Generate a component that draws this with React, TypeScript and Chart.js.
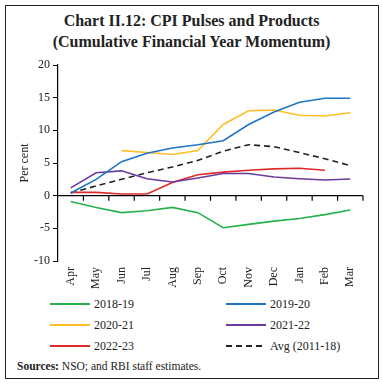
import React, { useEffect, useRef } from "react";
import { Chart, registerables } from "chart.js";

Chart.register(...registerables);

const months = ["Apr", "May", "Jun", "Jul", "Aug", "Sep", "Oct", "Nov", "Dec", "Jan", "Feb", "Mar"];
const s2018_19 = [-0.9, -1.8, -2.6, -2.3, -1.8, -2.6, -4.9, -4.4, -3.9, -3.5, -2.9, -2.2];
const s2019_20 = [0.4, 2.5, 5.2, 6.5, 7.3, 7.8, 8.4, 10.9, 12.8, 14.3, 14.9, 14.9];
const s2020_21 = [null, null, 6.9, 6.6, 6.3, 6.9, 10.9, 13.0, 13.1, 12.3, 12.2, 12.7];
const s2021_22 = [1.2, 3.5, 3.8, 2.6, 2.1, 2.7, 3.4, 3.4, 2.85, 2.6, 2.4, 2.55];
const s2022_23 = [0.5, 0.5, 0.25, 0.25, 2.0, 3.2, 3.6, 3.9, 4.1, 4.2, 3.9, null];
const sAvg = [0.4, 1.5, 2.5, 3.5, 4.4, 5.4, 6.8, 7.8, 7.5, 6.6, 5.65, 4.6];
const yTicks = [-10, -5, 0, 5, 10, 15, 20];

const series = [
  { label: "2018-19", data: s2018_19, color: "#27b14c", dash: [] as number[] },
  { label: "2019-20", data: s2019_20, color: "#1f74c4", dash: [] as number[] },
  { label: "2020-21", data: s2020_21, color: "#ffbf26", dash: [] as number[] },
  { label: "2021-22", data: s2021_22, color: "#6a3a9c", dash: [] as number[] },
  { label: "2022-23", data: s2022_23, color: "#e02a2a", dash: [] as number[] },
  { label: "Avg (2011-18)", data: sAvg, color: "#222222", dash: [6, 4] },
];

const SERIF = "'Liberation Serif', 'DejaVu Serif', serif";

const zeroTicks = {
  id: "zeroTicks",
  afterDatasetsDraw(chart: any) {
    const x = chart.scales.x;
    const y = chart.scales.y;
    const ctx = chart.ctx;
    const y0 = y.getPixelForValue(0);
    const n = x.ticks.length;
    ctx.save();
    ctx.strokeStyle = "#000";
    ctx.lineWidth = 1.2;
    ctx.beginPath();
    ctx.moveTo(x.left, y0);
    ctx.lineTo(x.right, y0);
    for (let i = 1; i <= n; i++) {
      const px = x.left + (i * x.width) / n;
      ctx.moveTo(px, y0);
      ctx.lineTo(px, y0 + 5);
    }
    ctx.stroke();
    ctx.restore();
  },
};

export default function App() {
  const ref = useRef<HTMLCanvasElement>(null);
  useEffect(() => {
    document.body.style.margin = "0";
    const chart = new Chart(ref.current as HTMLCanvasElement, {
      type: "line",
      data: {
        labels: months,
        datasets: series.map((s) => ({
          label: s.label,
          data: s.data,
          borderColor: s.color,
          backgroundColor: s.color,
          borderWidth: 1.6,
          borderDash: s.dash,
          pointRadius: 0,
          tension: 0,
          spanGaps: false,
        })),
      },
      options: {
        animation: false,
        responsive: false,
        maintainAspectRatio: false,
        layout: { padding: { left: 18, right: 20, top: 15, bottom: 0 } },
        plugins: { legend: { display: false }, tooltip: { enabled: false } },
        scales: {
          x: {
            type: "category",
            offset: true,
            grid: { display: false, drawTicks: false },
            border: { display: false },
            afterFit: (s: any) => {
              s.height = 34;
            },
            ticks: {
              minRotation: 90,
              maxRotation: 90,
              autoSkip: false,
              padding: 6,
              color: "#222",
              font: { family: SERIF, size: 12 },
            },
          },
          y: {
            min: -10,
            max: 20,
            afterBuildTicks: (s: any) => {
              s.ticks = yTicks.map((v) => ({ value: v }));
            },
            afterFit: (s: any) => {
              s.width = 40;
            },
            grid: {
              color: "transparent",
              drawOnChartArea: false,
              tickColor: "#000",
              tickLength: 5,
            },
            border: { display: true, color: "#000", width: 1.2 },
            title: {
              display: true,
              text: "Per cent",
              color: "#222",
              font: { family: SERIF, size: 12 },
              padding: { top: 0, bottom: 8 },
            },
            ticks: {
              color: "#222",
              padding: 3,
              font: { family: SERIF, size: 12 },
            },
          },
        },
      },
      plugins: [zeroTicks],
    });
    return () => chart.destroy();
  }, []);

  const rows = [
    [series[0], series[1]],
    [series[2], series[3]],
    [series[4], series[5]],
  ];

  return (
    <div style={{ position: "relative", width: 383, height: 385, background: "#fff", fontFamily: SERIF }}>
      <div
        style={{
          position: "absolute",
          left: 5,
          top: 5,
          width: 372,
          height: 372,
          border: "1px solid #222",
        }}
      />
      <div
        style={{
          position: "absolute",
          left: 0,
          top: 10,
          width: 383,
          textAlign: "center",
          fontWeight: "bold",
          fontSize: 16,
          lineHeight: "21px",
          color: "#222",
        }}
      >
        Chart II.12: CPI Pulses and Products
        <br />
        (Cumulative Financial Year Momentum)
      </div>
      <div style={{ position: "absolute", left: 0, top: 50, width: 383, height: 245 }}>
        <canvas ref={ref} width={383} height={245} style={{ display: "block" }} />
      </div>
      {rows.map((row, r) =>
        row.map((s, c) => (
          <div
            key={s.label}
            style={{
              position: "absolute",
              left: c === 0 ? 50 : 226,
              top: 304 + r * 21 - 9,
              height: 18,
              display: "flex",
              alignItems: "center",
              fontSize: 12,
              color: "#222",
              whiteSpace: "nowrap",
            }}
          >
            <svg width={40} height={4} style={{ marginRight: 4 }}>
              <line
                x1={0}
                y1={2}
                x2={40}
                y2={2}
                stroke={s.color}
                strokeWidth={s.dash.length ? 2 : 2.2}
                strokeDasharray={s.dash.length ? "6,4" : undefined}
              />
            </svg>
            {s.label}
          </div>
        ))
      )}
      <div
        style={{
          position: "absolute",
          left: 17,
          top: 360,
          fontSize: 11.5,
          color: "#222",
          whiteSpace: "nowrap",
        }}
      >
        <b>Sources:</b> NSO; and RBI staff estimates.
      </div>
    </div>
  );
}
